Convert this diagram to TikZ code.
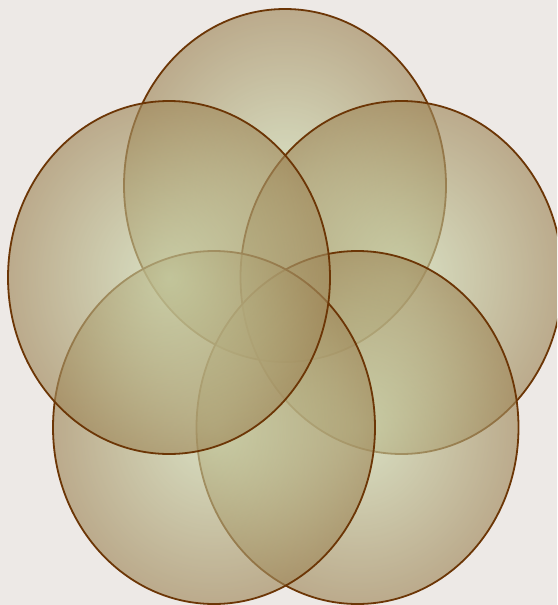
\documentclass[tikz,border=0pt]{standalone}
\usepackage{tikz}

\definecolor{paper}{RGB}{237,233,230}
\definecolor{petalin}{RGB}{206,220,176}
\definecolor{petalout}{RGB}{160,136,90}
\definecolor{petalline}{RGB}{108,54,6}

\tikzset{
  petal/.style={draw=petalline,line width=1.8pt,fill opacity=0.64,
    inner color=petalin,outer color=petalout}
}

\begin{document}
\begin{tikzpicture}[x=1pt,y=-1pt]
\fill[paper] (0,0) rectangle (557,605);
\clip (0,0) rectangle (557,605);
% five petals, back to front: top, right, bottom right, bottom left, left
\foreach \px/\py/\name in {285/185.5/top,401.5/277.5/right,357.5/427.5/botright,214/427.5/botleft,169/277.5/left} {
  \path[petal] (\px,\py) ellipse [x radius=161,y radius=176.5];
}
\end{tikzpicture}
\end{document}
